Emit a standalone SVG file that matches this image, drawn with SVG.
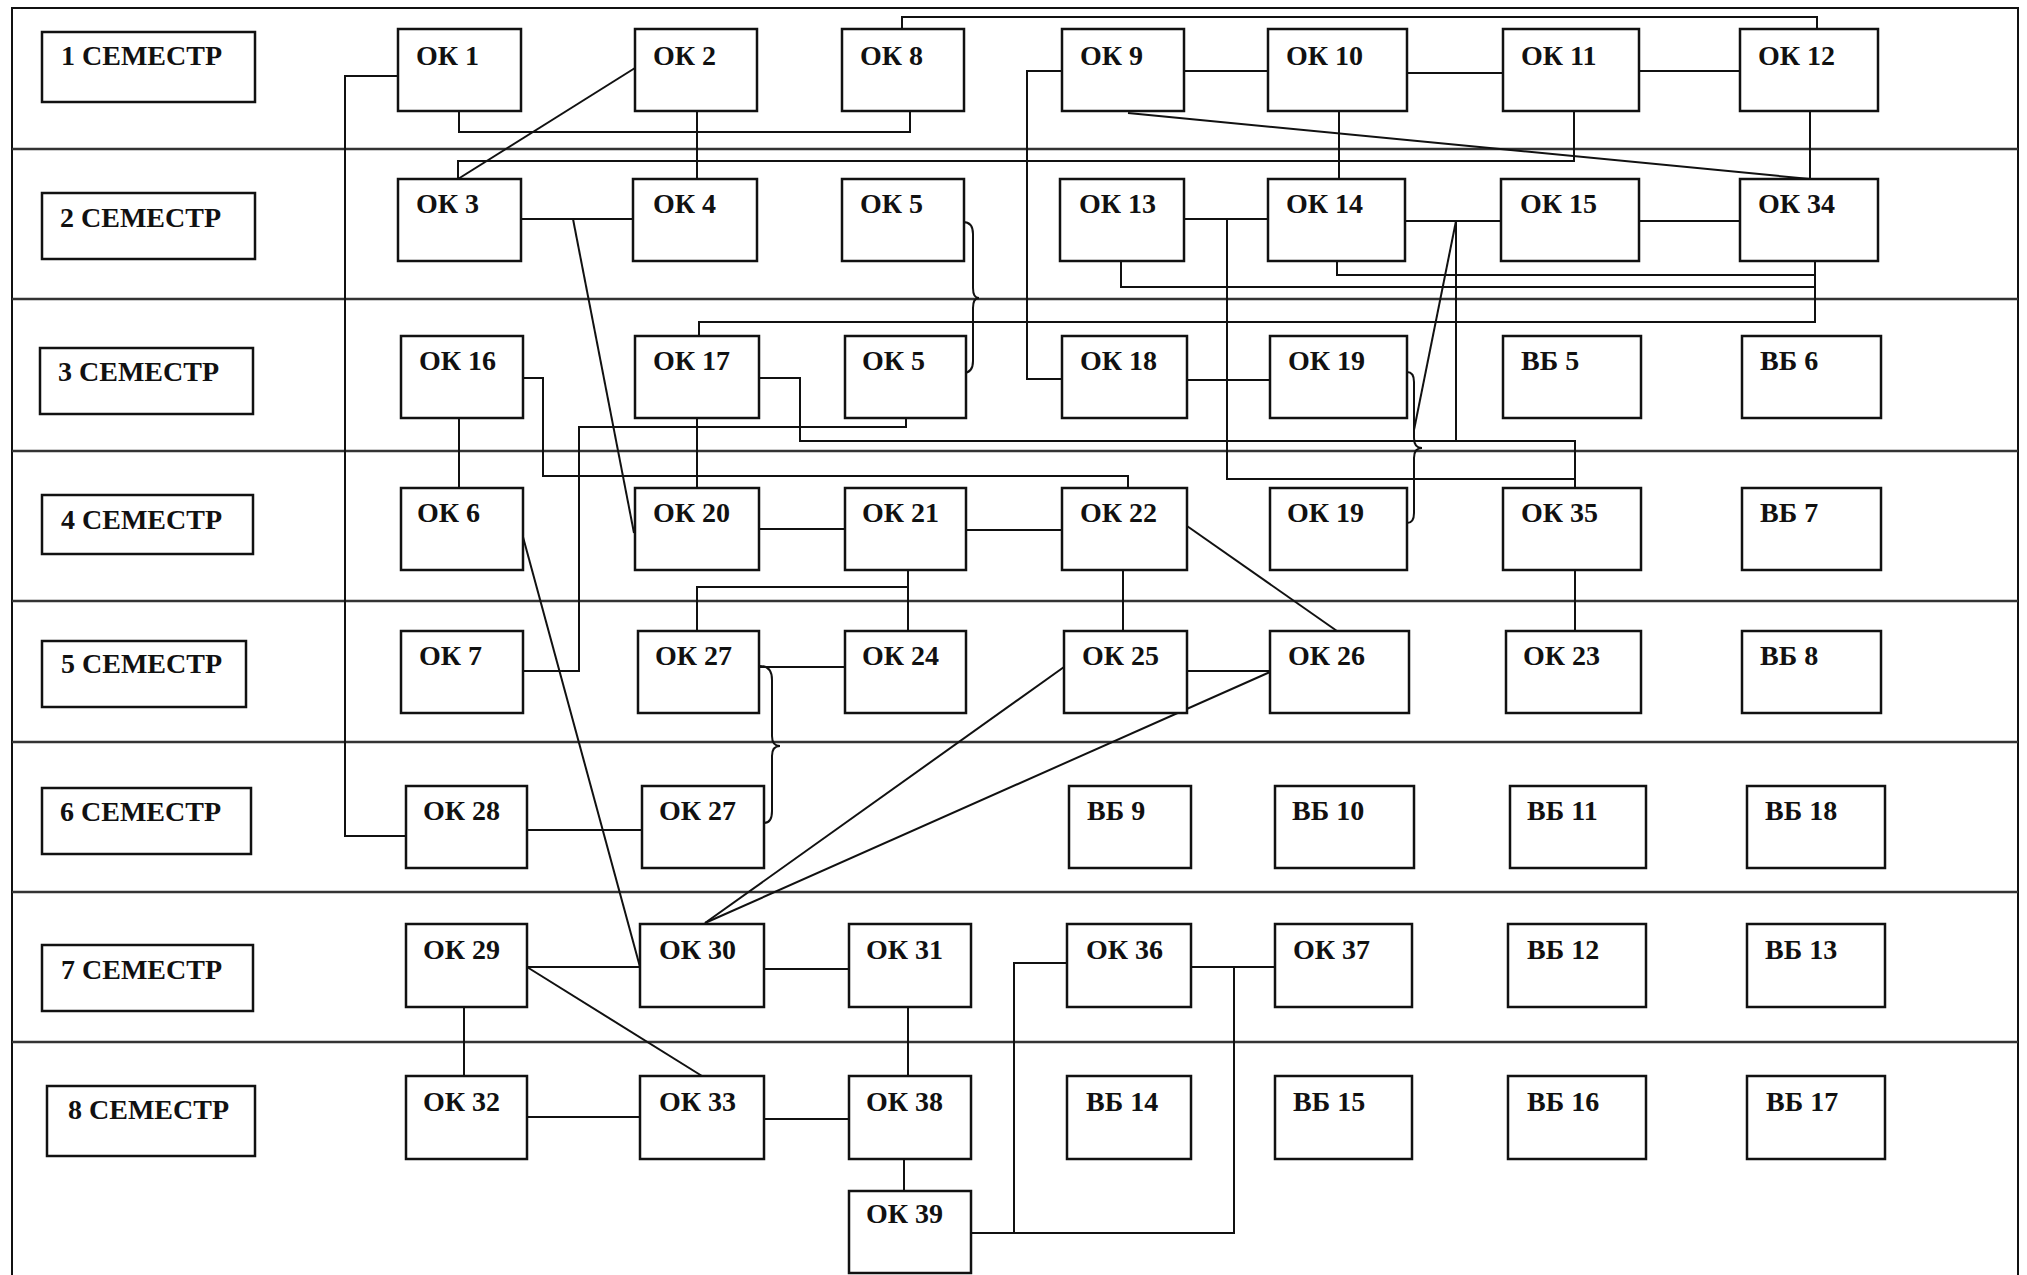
<svg xmlns="http://www.w3.org/2000/svg" width="2027" height="1275" viewBox="0 0 2027 1275">
<style>
.frame{fill:none;stroke:#111;stroke-width:2}
.sep{fill:none;stroke:#333;stroke-width:2.5}
.box{fill:#fff;stroke:#111;stroke-width:2.5}
.lbl{font-family:"Liberation Serif","Times New Roman",serif;font-weight:bold;font-size:28px;fill:#111}
.c{fill:none;stroke:#111;stroke-width:2}
</style>
<rect width="2027" height="1275" fill="#fff"/>
<g id="frame">
<path class="frame" d="M12,1275 V8 H2018 V1275"/>
<path class="sep" d="M12,149 H2018 M12,299 H2018 M12,451 H2018 M12,601 H2018 M12,742 H2018 M12,892 H2018 M12,1042 H2018"/>
</g>
<g id="semesters">
<g id="sem1"><rect class="box" x="42" y="32" width="213" height="70"/><text class="lbl" x="61" y="65">1 СЕМЕСТР</text></g>
<g id="sem2"><rect class="box" x="42" y="193" width="213" height="66"/><text class="lbl" x="60" y="227">2 СЕМЕСТР</text></g>
<g id="sem3"><rect class="box" x="40" y="348" width="213" height="66"/><text class="lbl" x="58" y="381">3 СЕМЕСТР</text></g>
<g id="sem4"><rect class="box" x="42" y="495" width="211" height="59"/><text class="lbl" x="61" y="529">4 СЕМЕСТР</text></g>
<g id="sem5"><rect class="box" x="42" y="641" width="204" height="66"/><text class="lbl" x="61" y="673">5 СЕМЕСТР</text></g>
<g id="sem6"><rect class="box" x="42" y="788" width="209" height="66"/><text class="lbl" x="60" y="821">6 СЕМЕСТР</text></g>
<g id="sem7"><rect class="box" x="42" y="945" width="211" height="66"/><text class="lbl" x="61" y="979">7 СЕМЕСТР</text></g>
<g id="sem8"><rect class="box" x="47" y="1086" width="208" height="70"/><text class="lbl" x="68" y="1119">8 СЕМЕСТР</text></g>
</g>
<g id="connectors">
<path class="c" d="M398,76 H345 V836 H406"/>
<path class="c" d="M635,68 L458,179"/>
<path class="c" d="M459,111 V132 H910 V111"/>
<path class="c" d="M697,111 V179"/>
<path class="c" d="M902,29 V17 H1817 V29"/>
<path class="c" d="M458,179 V161 H1574 V111"/>
<path class="c" d="M521,219 H633"/>
<path class="c" d="M573,219 L634,533"/>
<path class="c" d="M963,222 Q973,222 973,234 V288 Q973,298 979,298 Q973,298 973,308 V361 Q973,373 963,373"/>
<path class="c" d="M1062,71 H1027 V379 H1062"/>
<path class="c" d="M1184,71 H1268"/>
<path class="c" d="M1407,73 H1503"/>
<path class="c" d="M1639,71 H1740"/>
<path class="c" d="M1128,113 L1810,179"/>
<path class="c" d="M1339,111 V179"/>
<path class="c" d="M1810,111 V179"/>
<path class="c" d="M1184,219 H1268"/>
<path class="c" d="M1227,219 V479 H1575 V488"/>
<path class="c" d="M1405,221 H1501"/>
<path class="c" d="M1456,221 V441"/>
<path class="c" d="M1456,221 L1414,430"/>
<path class="c" d="M1407,372 Q1414,372 1414,382 V438 Q1414,448 1422,448 Q1414,448 1414,458 V513 Q1414,523 1407,523"/>
<path class="c" d="M1639,221 H1740"/>
<path class="c" d="M1337,261 V275 H1815"/>
<path class="c" d="M1121,261 V287 H1815"/>
<path class="c" d="M1815,261 V322 H699 V336"/>
<path class="c" d="M523,378 H543 V476 H1128 V488"/>
<path class="c" d="M759,378 H800 V441 H1575 V488"/>
<path class="c" d="M906,418 V427 H579 V671 H523"/>
<path class="c" d="M459,418 V488"/>
<path class="c" d="M697,418 V488"/>
<path class="c" d="M759,529 H845"/>
<path class="c" d="M966,530 H1062"/>
<path class="c" d="M908,570 V631"/>
<path class="c" d="M908,587 H697 V631"/>
<path class="c" d="M523,537 L640,967"/>
<path class="c" d="M1187,380 H1270"/>
<path class="c" d="M1187,526 L1337,631"/>
<path class="c" d="M1123,570 V631"/>
<path class="c" d="M1575,570 V631"/>
<path class="c" d="M759,667 H845"/>
<path class="c" d="M760,666 Q772,666 772,680 V736 Q772,746 780,746 Q772,746 772,756 V811 Q772,823 764,823"/>
<path class="c" d="M527,830 H642"/>
<path class="c" d="M1187,671 H1270"/>
<path class="c" d="M1064,667 L705,923"/>
<path class="c" d="M1270,672 L705,923"/>
<path class="c" d="M527,967 H640"/>
<path class="c" d="M527,967 L702,1076"/>
<path class="c" d="M764,969 H849"/>
<path class="c" d="M464,1007 V1076"/>
<path class="c" d="M908,1007 V1076"/>
<path class="c" d="M527,1117 H640"/>
<path class="c" d="M764,1119 H849"/>
<path class="c" d="M904,1159 V1191"/>
<path class="c" d="M971,1233 H1014 V963 H1067"/>
<path class="c" d="M1014,1233 H1234 V967"/>
<path class="c" d="M1191,967 H1275"/>
</g>
<g id="nodes">
<g id="ok1"><rect class="box" x="398" y="29" width="123" height="82"/><text class="lbl" x="416" y="65">ОК 1</text></g>
<g id="ok2"><rect class="box" x="635" y="29" width="122" height="82"/><text class="lbl" x="653" y="65">ОК 2</text></g>
<g id="ok8"><rect class="box" x="842" y="29" width="122" height="82"/><text class="lbl" x="860" y="65">ОК 8</text></g>
<g id="ok9"><rect class="box" x="1062" y="29" width="122" height="82"/><text class="lbl" x="1080" y="65">ОК 9</text></g>
<g id="ok10"><rect class="box" x="1268" y="29" width="139" height="82"/><text class="lbl" x="1286" y="65">ОК 10</text></g>
<g id="ok11"><rect class="box" x="1503" y="29" width="136" height="82"/><text class="lbl" x="1521" y="65">ОК 11</text></g>
<g id="ok12"><rect class="box" x="1740" y="29" width="138" height="82"/><text class="lbl" x="1758" y="65">ОК 12</text></g>

<g id="ok3"><rect class="box" x="398" y="179" width="123" height="82"/><text class="lbl" x="416" y="213">ОК 3</text></g>
<g id="ok4"><rect class="box" x="633" y="179" width="124" height="82"/><text class="lbl" x="653" y="213">ОК 4</text></g>
<g id="ok5a"><rect class="box" x="842" y="179" width="122" height="82"/><text class="lbl" x="860" y="213">ОК 5</text></g>
<g id="ok13"><rect class="box" x="1060" y="179" width="124" height="82"/><text class="lbl" x="1079" y="213">ОК 13</text></g>
<g id="ok14"><rect class="box" x="1268" y="179" width="137" height="82"/><text class="lbl" x="1286" y="213">ОК 14</text></g>
<g id="ok15"><rect class="box" x="1501" y="179" width="138" height="82"/><text class="lbl" x="1520" y="213">ОК 15</text></g>
<g id="ok34"><rect class="box" x="1740" y="179" width="138" height="82"/><text class="lbl" x="1758" y="213">ОК 34</text></g>

<g id="ok16"><rect class="box" x="401" y="336" width="122" height="82"/><text class="lbl" x="419" y="370">ОК 16</text></g>
<g id="ok17"><rect class="box" x="635" y="336" width="124" height="82"/><text class="lbl" x="653" y="370">ОК 17</text></g>
<g id="ok5b"><rect class="box" x="845" y="336" width="121" height="82"/><text class="lbl" x="862" y="370">ОК 5</text></g>
<g id="ok18"><rect class="box" x="1062" y="336" width="125" height="82"/><text class="lbl" x="1080" y="370">ОК 18</text></g>
<g id="ok19a"><rect class="box" x="1270" y="336" width="137" height="82"/><text class="lbl" x="1288" y="370">ОК 19</text></g>
<g id="vb5"><rect class="box" x="1503" y="336" width="138" height="82"/><text class="lbl" x="1521" y="370">ВБ 5</text></g>
<g id="vb6"><rect class="box" x="1742" y="336" width="139" height="82"/><text class="lbl" x="1760" y="370">ВБ 6</text></g>

<g id="ok6"><rect class="box" x="401" y="488" width="122" height="82"/><text class="lbl" x="417" y="522">ОК 6</text></g>
<g id="ok20"><rect class="box" x="635" y="488" width="124" height="82"/><text class="lbl" x="653" y="522">ОК 20</text></g>
<g id="ok21"><rect class="box" x="845" y="488" width="121" height="82"/><text class="lbl" x="862" y="522">ОК 21</text></g>
<g id="ok22"><rect class="box" x="1062" y="488" width="125" height="82"/><text class="lbl" x="1080" y="522">ОК 22</text></g>
<g id="ok19b"><rect class="box" x="1270" y="488" width="137" height="82"/><text class="lbl" x="1287" y="522">ОК 19</text></g>
<g id="ok35"><rect class="box" x="1503" y="488" width="138" height="82"/><text class="lbl" x="1521" y="522">ОК 35</text></g>
<g id="vb7"><rect class="box" x="1742" y="488" width="139" height="82"/><text class="lbl" x="1760" y="522">ВБ 7</text></g>

<g id="ok7"><rect class="box" x="401" y="631" width="122" height="82"/><text class="lbl" x="419" y="665">ОК 7</text></g>
<g id="ok27a"><rect class="box" x="638" y="631" width="121" height="82"/><text class="lbl" x="655" y="665">ОК 27</text></g>
<g id="ok24"><rect class="box" x="845" y="631" width="121" height="82"/><text class="lbl" x="862" y="665">ОК 24</text></g>
<g id="ok25"><rect class="box" x="1064" y="631" width="123" height="82"/><text class="lbl" x="1082" y="665">ОК 25</text></g>
<g id="ok26"><rect class="box" x="1270" y="631" width="139" height="82"/><text class="lbl" x="1288" y="665">ОК 26</text></g>
<g id="ok23"><rect class="box" x="1506" y="631" width="135" height="82"/><text class="lbl" x="1523" y="665">ОК 23</text></g>
<g id="vb8"><rect class="box" x="1742" y="631" width="139" height="82"/><text class="lbl" x="1760" y="665">ВБ 8</text></g>

<g id="ok28"><rect class="box" x="406" y="786" width="121" height="82"/><text class="lbl" x="423" y="820">ОК 28</text></g>
<g id="ok27b"><rect class="box" x="642" y="786" width="122" height="82"/><text class="lbl" x="659" y="820">ОК 27</text></g>
<g id="vb9"><rect class="box" x="1069" y="786" width="122" height="82"/><text class="lbl" x="1087" y="820">ВБ 9</text></g>
<g id="vb10"><rect class="box" x="1275" y="786" width="139" height="82"/><text class="lbl" x="1292" y="820">ВБ 10</text></g>
<g id="vb11"><rect class="box" x="1510" y="786" width="136" height="82"/><text class="lbl" x="1527" y="820">ВБ 11</text></g>
<g id="vb18"><rect class="box" x="1747" y="786" width="138" height="82"/><text class="lbl" x="1765" y="820">ВБ 18</text></g>

<g id="ok29"><rect class="box" x="406" y="924" width="121" height="83"/><text class="lbl" x="423" y="959">ОК 29</text></g>
<g id="ok30"><rect class="box" x="640" y="924" width="124" height="83"/><text class="lbl" x="659" y="959">ОК 30</text></g>
<g id="ok31"><rect class="box" x="849" y="924" width="122" height="83"/><text class="lbl" x="866" y="959">ОК 31</text></g>
<g id="ok36"><rect class="box" x="1067" y="924" width="124" height="83"/><text class="lbl" x="1086" y="959">ОК 36</text></g>
<g id="ok37"><rect class="box" x="1275" y="924" width="137" height="83"/><text class="lbl" x="1293" y="959">ОК 37</text></g>
<g id="vb12"><rect class="box" x="1508" y="924" width="138" height="83"/><text class="lbl" x="1527" y="959">ВБ 12</text></g>
<g id="vb13"><rect class="box" x="1747" y="924" width="138" height="83"/><text class="lbl" x="1765" y="959">ВБ 13</text></g>

<g id="ok32"><rect class="box" x="406" y="1076" width="121" height="83"/><text class="lbl" x="423" y="1111">ОК 32</text></g>
<g id="ok33"><rect class="box" x="640" y="1076" width="124" height="83"/><text class="lbl" x="659" y="1111">ОК 33</text></g>
<g id="ok38"><rect class="box" x="849" y="1076" width="122" height="83"/><text class="lbl" x="866" y="1111">ОК 38</text></g>
<g id="vb14"><rect class="box" x="1067" y="1076" width="124" height="83"/><text class="lbl" x="1086" y="1111">ВБ 14</text></g>
<g id="vb15"><rect class="box" x="1275" y="1076" width="137" height="83"/><text class="lbl" x="1293" y="1111">ВБ 15</text></g>
<g id="vb16"><rect class="box" x="1508" y="1076" width="138" height="83"/><text class="lbl" x="1527" y="1111">ВБ 16</text></g>
<g id="vb17"><rect class="box" x="1747" y="1076" width="138" height="83"/><text class="lbl" x="1766" y="1111">ВБ 17</text></g>

<g id="ok39"><rect class="box" x="849" y="1191" width="122" height="82"/><text class="lbl" x="866" y="1223">ОК 39</text></g>
</g>
</svg>
